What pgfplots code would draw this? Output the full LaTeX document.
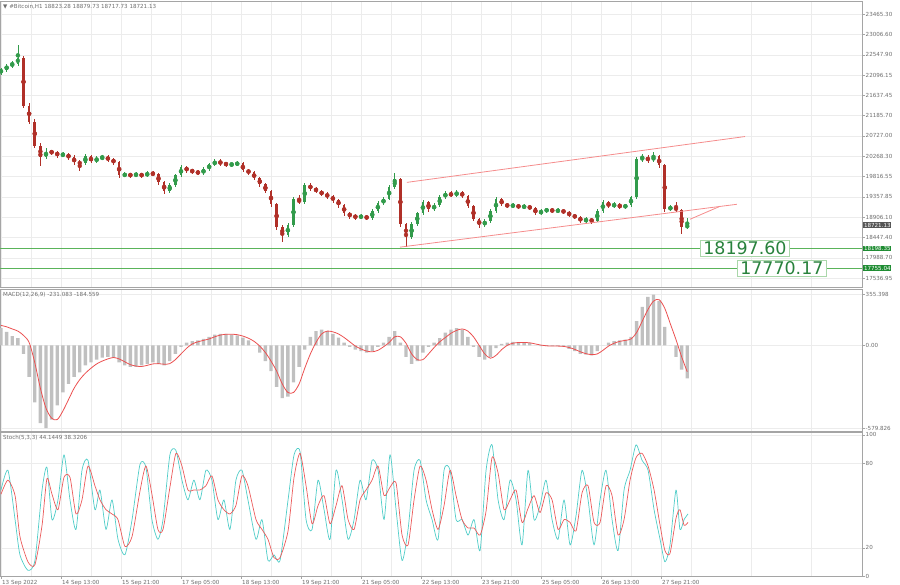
\documentclass[border=0pt]{standalone}
\usepackage{pgfplots}
\pgfplotsset{compat=1.18}
\usepackage{pgfplotstable}
\usepackage{fontspec}
\setmainfont{DejaVu Sans}
\definecolor{upc}{RGB}{50,155,75}
\definecolor{dnc}{RGB}{176,48,40}
\definecolor{gline}{RGB}{90,180,90}
\definecolor{gtext}{RGB}{40,130,60}
\definecolor{gbox}{RGB}{170,215,170}
\definecolor{tagg}{RGB}{30,140,50}
\definecolor{tagd}{RGB}{85,85,85}
\definecolor{chan}{RGB}{245,140,140}
\definecolor{hist}{RGB}{192,192,192}
\definecolor{sig}{RGB}{235,80,80}
\definecolor{stk}{RGB}{80,205,200}
\definecolor{std}{RGB}{235,90,90}
\definecolor{framec}{RGB}{165,165,165}
\definecolor{gridc}{RGB}{236,236,236}
\definecolor{lab}{RGB}{110,110,110}
\newcommand\tf{\fontsize{5.6}{6.6}\selectfont}

\pgfplotstableread{
h o hi lo c
0 22145 22260 22100 22213
3 22213 22350 22170 22302
6 22302 22420 22260 22347
9 22347 22772 22300 22481
12 22481 22530 21350 21407
15 21407 21460 20990 21049
18 21049 21100 20450 20512
21 20512 20560 20050 20244
24 20244 20450 20200 20378
27 20378 20420 20300 20356
30 20356 20400 20240 20289
33 20289 20370 20250 20311
36 20311 20350 20190 20244
39 20244 20290 20080 20132
42 20132 20180 19931 20109
45 20109 20330 20080 20266
48 20266 20300 20110 20155
51 20155 20280 20120 20222
54 20222 20310 20190 20244
57 20244 20290 20150 20199
60 20199 20240 20080 20132
63 20132 20170 19780 19841
66 19841 19910 19800 19864
69 19864 19900 19790 19841
72 19841 19920 19800 19864
75 19864 19900 19790 19841
78 19841 19940 19800 19886
81 19886 19950 19820 19864
84 19864 19900 19630 19685
87 19685 19720 19420 19483
90 19483 19670 19450 19618
93 19618 19880 19590 19841
96 19841 20070 19800 20020
99 20020 20060 19900 19953
102 19953 19990 19880 19931
105 19931 19970 19840 19886
108 19886 20020 19850 19975
111 19975 20130 19940 20087
114 20087 20200 20050 20155
117 20155 20200 20060 20109
120 20109 20150 20040 20087
123 20087 20130 20030 20098
126 20098 20160 20050 20109
129 20109 20140 19910 19953
132 19953 19990 19860 19908
135 19908 19940 19730 19774
138 19774 19810 19590 19640
141 19640 19680 19440 19483
144 19483 19510 19140 19193
147 19193 19230 18620 18678
150 18678 18720 18343 18499
153 18499 18770 18450 18723
156 18723 19350 18690 19304
159 19304 19400 19190 19237
162 19237 19680 19200 19618
165 19618 19660 19500 19551
168 19551 19590 19440 19483
171 19483 19520 19370 19416
174 19416 19460 19320 19372
177 19372 19410 19230 19282
180 19282 19320 19120 19170
183 19170 19210 18940 18991
186 18991 19030 18870 18924
189 18924 18980 18850 18902
192 18902 18970 18860 18924
195 18924 18960 18830 18879
198 18879 19080 18850 19036
201 19036 19260 19000 19215
204 19215 19350 19180 19304
207 19304 19620 19280 19573
210 19573 19886 19540 19752
213 19752 19790 18690 18745
216 18745 18780 18231 18454
219 18454 18790 18420 18745
222 18745 19030 18710 18991
225 18991 19290 18960 19237
228 19237 19270 19030 19081
231 19081 19220 19040 19170
234 19170 19400 19140 19349
237 19349 19490 19310 19439
240 19439 19480 19350 19394
243 19394 19510 19360 19461
246 19461 19500 19330 19372
249 19372 19400 19100 19148
252 19148 19180 18810 18857
255 18857 18890 18670 18723
258 18723 18860 18690 18812
261 18812 19080 18780 19036
264 19036 19350 19000 19304
267 19304 19330 19150 19193
270 19193 19230 19100 19148
273 19148 19220 19110 19170
276 19170 19210 19080 19125
279 19125 19190 19090 19148
282 19148 19180 19060 19103
285 19103 19130 18950 18991
288 18991 19080 18960 19036
291 19036 19120 19000 19081
294 19081 19110 18990 19036
297 19036 19100 19000 19058
300 19058 19090 18970 19014
303 19014 19050 18900 18946
306 18946 18980 18860 18902
309 18902 18940 18770 18812
312 18812 18900 18780 18857
315 18857 18890 18760 18812
318 18812 19080 18790 19036
321 19036 19290 19000 19237
324 19237 19270 19100 19148
327 19148 19240 19110 19193
330 19193 19220 19080 19125
333 19125 19210 19090 19170
336 19170 19390 19140 19349
339 19349 20250 19320 20199
342 20199 20330 20150 20244
345 20244 20300 20120 20177
348 20177 20378 20140 20266
351 20266 20310 20010 20065
354 20065 20100 19030 19081
357 19081 19180 19040 19125
360 19125 19250 19010 19058
363 19058 19090 18521 18678
366 18678 18880 18640 18721
}\price

\pgfplotstableread{
h m s
0 120 140
3 95 130
6 65 115
9 50 100
12 -60 70
15 -220 20
18 -400 -120
21 -545 -300
24 -580 -440
27 -520 -510
30 -420 -520
33 -330 -460
36 -270 -380
39 -220 -300
42 -190 -240
45 -140 -195
48 -120 -160
51 -100 -130
54 -85 -110
57 -80 -95
60 -85 -85
63 -120 -95
66 -140 -115
69 -150 -135
72 -150 -145
75 -140 -148
78 -130 -140
81 -120 -130
84 -130 -128
87 -140 -132
90 -110 -128
93 -60 -100
96 -10 -60
99 20 -20
102 30 10
105 35 25
108 45 35
111 60 45
114 75 60
117 80 72
120 80 78
123 75 78
126 70 75
129 55 65
132 35 50
135 0 28
138 -50 -5
141 -110 -50
144 -180 -110
147 -290 -180
150 -370 -270
153 -360 -330
156 -260 -330
159 -150 -270
162 -30 -160
165 60 -60
168 100 20
171 110 80
174 100 100
177 80 95
180 55 80
183 20 55
186 -10 25
189 -30 -5
192 -40 -25
195 -50 -40
198 -40 -45
201 -10 -35
204 20 -10
207 60 20
210 100 60
213 20 60
216 -80 15
219 -130 -60
222 -110 -100
225 -50 -100
228 -10 -60
231 20 -15
234 50 25
237 90 55
240 110 85
243 120 105
246 110 115
249 60 100
252 -10 60
255 -80 0
258 -100 -60
261 -80 -90
264 -20 -70
267 10 -30
270 20 0
273 25 15
276 20 20
279 20 20
282 15 18
285 0 10
288 -5 2
291 -5 -3
294 -5 -5
297 -5 -5
300 -10 -7
303 -25 -15
306 -40 -28
309 -60 -45
312 -65 -58
315 -70 -65
318 -40 -60
321 0 -35
324 20 -5
327 30 15
330 35 28
333 40 35
336 60 45
339 170 90
342 270 170
345 340 250
348 355 310
351 310 320
354 130 260
357 0 150
360 -80 40
363 -170 -80
366 -231 -185
}\macd

\pgfplotsset{
  panel/.style={
    scale only axis, width=862bp,
    xmin=-0.533, xmax=459.2,
    clip mode=individual,
    scaled ticks=false,
    axis line style={draw=framec, line width=0.6bp},
    xtick={0,32,64,96,128,160,192,224,256,288,320,352},
    minor xtick={16,48,80,112,144,176,208,240,272,304,336,368,400,432},
    grid=both,
    major grid style={draw=gridc, line width=0.5bp},
    minor grid style={draw=gridc, line width=0.5bp},
    ytick pos=right, yticklabel pos=right,
    tick align=outside, major tick length=2.5bp, minor tick length=0bp,
    tick style={draw=framec, line width=0.5bp},
    yticklabel style={font=\tf, text=lab, inner sep=1bp},
    xticklabel style={font=\tf, text=lab},
  },
  upper/.style={xticklabels={}, xtick style={draw=none}},
}

\begin{document}
\begin{tikzpicture}
\useasboundingbox (0bp,0bp) rectangle (900bp,585bp);

% ---------------- price panel
\begin{axis}[panel, upper, at={(0bp,298bp)}, anchor=south west, height=286bp,
  ymin=17336, ymax=23757,
  ytick={17536.95,17988.70,18447.40,18906.10,19357.85,19816.55,20268.30,20727.00,21185.70,21637.45,22096.15,22547.90,23006.60,23465.30},
  yticklabels={17536.95,17988.70,18447.40,18906.10,19357.85,19816.55,20268.30,20727.00,21185.70,21637.45,22096.15,22547.90,23006.60,23465.30}]
% wicks
\addplot[upc, only marks, mark=none,
  restrict expr to domain={\thisrow{c}-\thisrow{o}}{0:100000},
  error bars/.cd, y dir=both, y explicit, error mark=none,
  error bar style={line width=0.7bp, draw=upc}]
  table[x=h, y expr={(\thisrow{hi}+\thisrow{lo})/2}, y error expr={(\thisrow{hi}-\thisrow{lo})/2}] {\price};
\addplot[dnc, only marks, mark=none,
  restrict expr to domain={\thisrow{c}-\thisrow{o}}{-100000:-0.01},
  error bars/.cd, y dir=both, y explicit, error mark=none,
  error bar style={line width=0.7bp, draw=dnc}]
  table[x=h, y expr={(\thisrow{hi}+\thisrow{lo})/2}, y error expr={(\thisrow{hi}-\thisrow{lo})/2}] {\price};
% bodies
\addplot[upc, only marks, mark=none,
  restrict expr to domain={\thisrow{c}-\thisrow{o}}{0:100000},
  error bars/.cd, y dir=both, y explicit, error mark=none,
  error bar style={line width=2.6bp, draw=upc}]
  table[x=h, y expr={(\thisrow{o}+\thisrow{c})/2}, y error expr={abs(\thisrow{c}-\thisrow{o})/2}] {\price};
\addplot[dnc, only marks, mark=none,
  restrict expr to domain={\thisrow{c}-\thisrow{o}}{-100000:-0.01},
  error bars/.cd, y dir=both, y explicit, error mark=none,
  error bar style={line width=2.6bp, draw=dnc}]
  table[x=h, y expr={(\thisrow{o}+\thisrow{c})/2}, y error expr={abs(\thisrow{c}-\thisrow{o})/2}] {\price};
% channel
\addplot[chan, line width=0.8bp] coordinates {(216.5,19685) (396.8,20714)};
\addplot[chan, line width=0.8bp] coordinates {(212.8,18231) (392.5,19193)};
\addplot[chan, line width=0.8bp] coordinates {(367.5,18857) (383.5,19148)};
% levels
\addplot[gline, line width=1bp] coordinates {(-1,18198.35) (460,18198.35)};
\addplot[gline, line width=1bp] coordinates {(-1,17755.04) (460,17755.04)};
\node[draw=gbox, line width=0.7bp, fill=white, text=gtext, font=\fontsize{17.5}{20}\selectfont, inner xsep=3bp, inner ysep=1.5bp, anchor=west] at (axis cs:372.8,18198.35) {18197.60};
\node[draw=gbox, line width=0.7bp, fill=white, text=gtext, font=\fontsize{17.5}{20}\selectfont, inner xsep=3bp, inner ysep=1.5bp, anchor=west] at (axis cs:392.5,17755.04) {17770.17};
% tags
\node[anchor=west, fill=tagd, text=white, font=\tf, inner sep=0.8bp, xshift=1bp] at (axis cs:459.2,18721.13) {18721.13};
\node[anchor=west, fill=tagg, text=white, font=\tf, inner sep=0.8bp, xshift=1bp] at (axis cs:459.2,18198.35) {18198.35};
\node[anchor=west, fill=tagg, text=white, font=\tf, inner sep=0.8bp, xshift=1bp] at (axis cs:459.2,17755.04) {17755.04};
\node[anchor=north west, font=\tf, text=lab, inner sep=0pt] at (rel axis cs:0,1) [xshift=3bp, yshift=-3bp] {▼ \#Bitcoin,H1 18823.28 18879.73 18717.73 18721.13};
\end{axis}

% ---------------- MACD panel
\begin{axis}[panel, upper, at={(0bp,154bp)}, anchor=south west, height=142bp,
  ymin=-600, ymax=395,
  ytick={-579.826,0,355.398}, yticklabels={-579.826,0.00,355.398}]
\addplot[ybar, bar width=3.4bp, fill=hist, draw=none] table[x=h, y=m] {\macd};
\addplot[sig, line width=0.8bp, line join=round, smooth, tension=0.5] table[x=h, y=s] {\macd};
\node[anchor=north west, font=\tf, text=lab, inner sep=0pt] at (rel axis cs:0,1) [xshift=3bp, yshift=-3bp] {MACD(12,26,9) -231.083 -184.559};
\end{axis}

% ---------------- Stochastic panel
\begin{axis}[panel, at={(0bp,9bp)}, anchor=south west, height=144bp,
  ymin=0, ymax=102.1,
  ytick={0,20,80,100}, yticklabels={0,20,80,100},
  xtick pos=bottom,
  xticklabels={13 Sep 2022,14 Sep 13:00,15 Sep 21:00,17 Sep 05:00,18 Sep 13:00,19 Sep 21:00,21 Sep 05:00,22 Sep 13:00,23 Sep 21:00,25 Sep 05:00,26 Sep 13:00,27 Sep 21:00},
  xticklabel style={anchor=north west, inner sep=0pt, yshift=-1.5bp, xshift=1bp}]
\addplot[stk, line width=0.7bp, line join=round, smooth, tension=0.4] coordinates {
(0,61)(3.7,75)(7.5,40)(10.1,15)(14.4,4)(18.1,11)(21.9,61)(24.5,77)(27.2,40)(30.4,54)(33.6,86)(36.8,54)(40,33)(43.2,75)(46.4,82)(50.1,47)(52.8,61)(56,33)(59.2,54)(62.4,26)(66.1,15)(69.9,40)(74.1,79)(77.3,77)(80.5,40)(83.7,26)(86.4,40)(90.1,86)(93.3,89)(96.5,68)(99.7,54)(102.9,68)(106.1,54)(109.3,75)(112.5,68)(115.7,40)(118.9,54)(122.1,33)(125.3,68)(128.5,75)(131.7,54)(136,26)(139.2,40)(142.4,11)(145.6,15)(148.8,11)(153.1,54)(156.3,86)(159.5,88)(162.7,40)(165.9,33)(169.1,68)(172.3,47)(175.5,26)(178.7,75)(181.9,54)(185.1,26)(188.3,40)(191.5,68)(194.7,54)(197.9,82)(201.1,75)(204.3,40)(207.5,86)(210.7,47)(213.9,11)(217.1,33)(220.3,75)(223.5,82)(226.7,54)(229.9,40)(233.1,26)(236.3,75)(239.5,75)(242.7,40)(245.9,40)(249.1,29)(252.3,40)(255.5,18)(258.7,75)(261.9,93)(265.1,54)(268.3,40)(271.5,68)(274.7,54)(277.9,22)(281.1,75)(284.3,40)(287.5,50)(290.7,68)(293.9,40)(297.1,26)(300.3,54)(303.5,22)(306.7,43)(309.9,75)(313.1,54)(316.3,22)(319.5,54)(322.7,75)(325.9,40)(329.1,18)(332.3,61)(335.5,75)(338.7,93)(341.9,82)(345.1,75)(348.3,47)(351.5,26)(354.1,10)(356.8,22)(360,61)(362.1,33)(364.3,40)(366.4,44)};
\addplot[std, line width=0.7bp, line join=round, smooth, tension=0.4] coordinates {
(0,58)(3.7,68)(7.5,57)(10.1,28)(14.4,10)(18.1,8)(21.9,36)(24.5,69)(27.2,58)(30.4,47)(33.6,70)(36.8,70)(40,44)(43.2,54)(46.4,78)(50.1,64)(52.8,54)(56,47)(59.2,44)(62.4,40)(66.1,21)(69.9,28)(74.1,60)(77.3,78)(80.5,58)(83.7,33)(86.4,33)(90.1,63)(93.3,87)(96.5,78)(99.7,61)(102.9,61)(106.1,61)(109.3,64)(112.5,71)(115.7,54)(118.9,47)(122.1,44)(125.3,50)(128.5,71)(131.7,64)(136,40)(139.2,33)(142.4,26)(145.6,13)(148.8,13)(153.1,32)(156.3,70)(159.5,87)(162.7,64)(165.9,37)(169.1,50)(172.3,57)(175.5,37)(178.7,50)(181.9,64)(185.1,40)(188.3,33)(191.5,54)(194.7,61)(197.9,68)(201.1,78)(204.3,57)(207.5,63)(210.7,66)(213.9,29)(217.1,22)(220.3,54)(223.5,78)(226.7,68)(229.9,47)(233.1,33)(236.3,50)(239.5,75)(242.7,57)(245.9,40)(249.1,34)(252.3,34)(255.5,29)(258.7,46)(261.9,84)(265.1,73)(268.3,47)(271.5,54)(274.7,61)(277.9,38)(281.1,48)(284.3,57)(287.5,45)(290.7,59)(293.9,54)(297.1,33)(300.3,40)(303.5,38)(306.7,32)(309.9,59)(313.1,64)(316.3,38)(319.5,38)(322.7,64)(325.9,57)(329.1,29)(332.3,40)(335.5,68)(338.7,84)(341.9,87)(345.1,78)(348.3,61)(351.5,36)(354.1,18)(356.8,16)(360,41)(362.1,47)(364.3,36)(366.4,38)};
\node[anchor=north west, font=\tf, text=lab, inner sep=0pt] at (rel axis cs:0,1) [xshift=3bp, yshift=-3bp] {Stoch(5,3,3) 44.1449 38.3206};
\end{axis}
\end{tikzpicture}
\end{document}
